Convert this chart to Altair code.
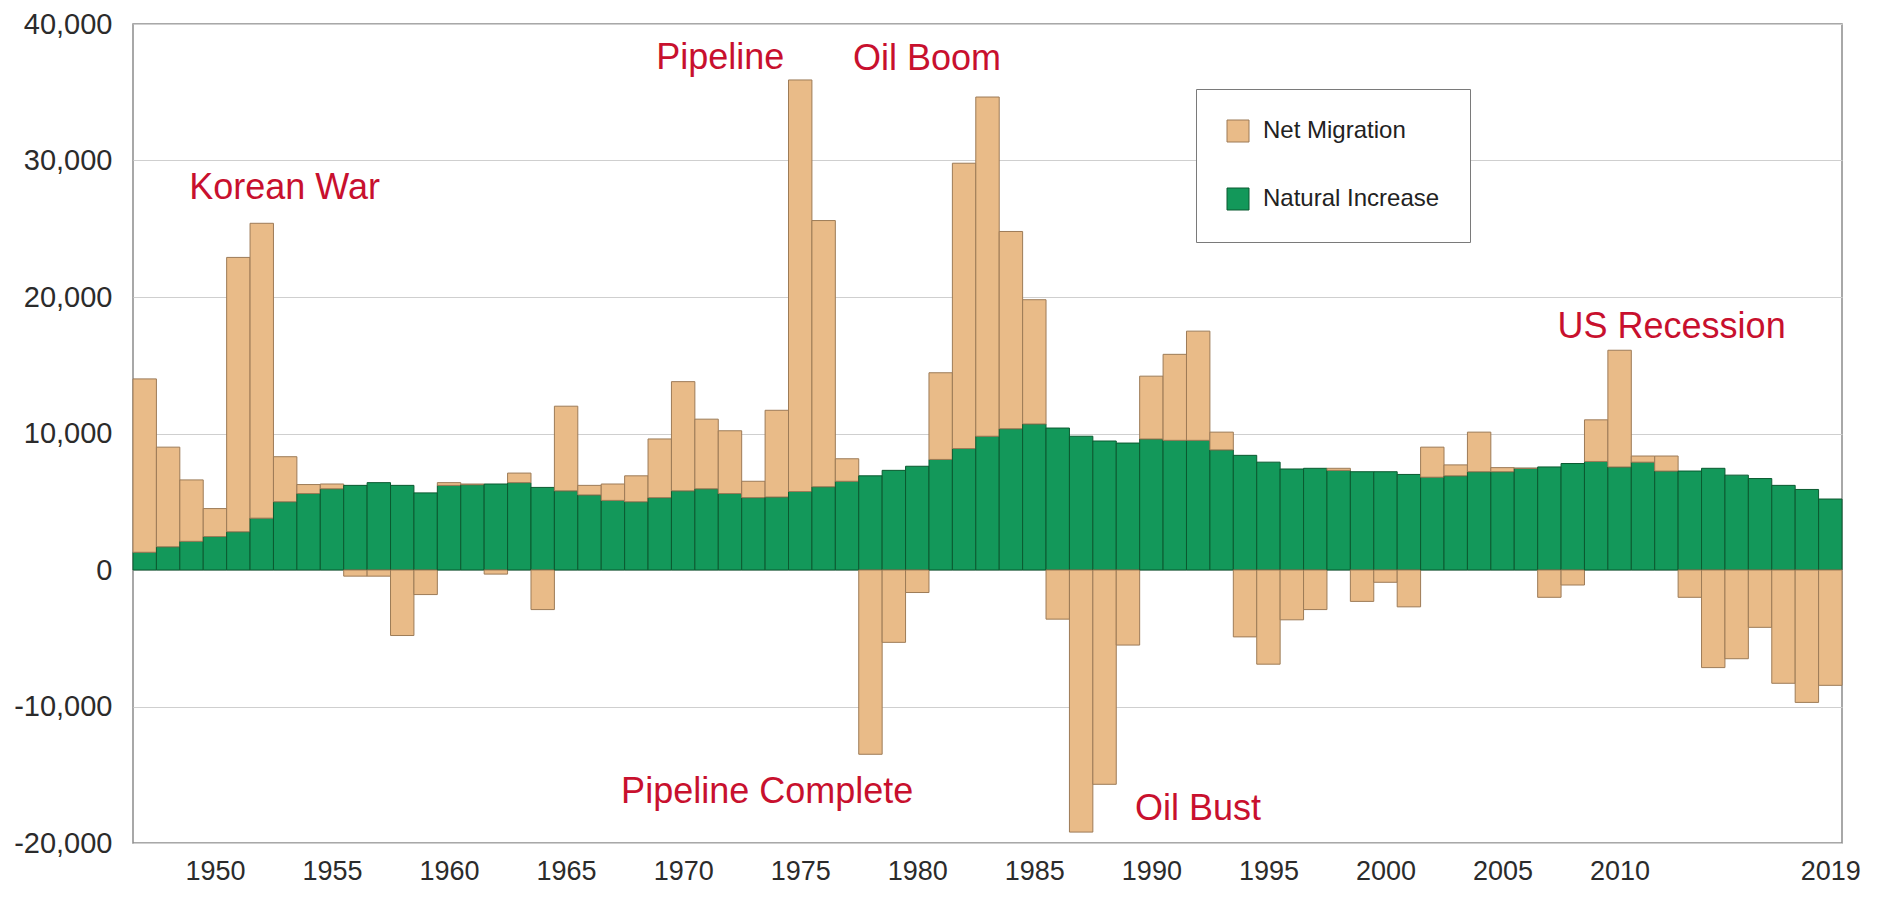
import altair as alt
import pandas as pd

# ---- data ----
YEARS = list(range(1947, 2020))

NATURAL = [
    1300, 1700, 2100, 2450, 2800, 3800, 5000, 5600, 5950, 6200,
    6400, 6200, 5650, 6200, 6250, 6300, 6400, 6050, 5800, 5500,
    5100, 5000, 5300, 5800, 5950, 5600, 5300, 5350, 5750, 6100,
    6500, 6900, 7300, 7600, 8100, 8900, 9800, 10350, 10700, 10400,
    9800, 9450, 9300, 9600, 9500, 9500, 8800, 8400, 7900, 7400,
    7450, 7300, 7200, 7200, 7000, 6800, 6900, 7200, 7200, 7450,
    7550, 7800, 7950, 7550, 7900, 7250, 7250, 7450, 6950, 6700,
    6200, 5900, 5200,
]

MIGRATION = [
    12700, 7300, 4500, 2050, 20100, 21600, 3300, 660, 350, -450,
    -450, -4800, -1800, 200, 50, -300, 700, -2900, 6200, 700,
    1200, 1900, 4300, 8000, 5100, 4600, 1200, 6350, 30150, 19500,
    1650, -13500, -5300, -1650, 6350, 20900, 24850, 14450, 9100, -3600,
    -19200, -15700, -5500, 4600, 6300, 8000, 1300, -4900, -6900, -3650,
    -2900, 150, -2300, -900, -2700, 2200, 800, 2900, 300, 0,
    -2000, -1100, 3050, 8550, 450, 1100, -2000, -7150, -6500, -4200,
    -8300, -9700, -8450,
]

SERIES = ["Net Migration", "Natural Increase"]
TICK_YEARS = [1950, 1955, 1960, 1965, 1970, 1975, 1980, 1985, 1990,
              1995, 2000, 2005, 2010, 2019]
Y_TICKS = [-20000, -10000, 0, 10000, 20000, 30000, 40000]

ANNOT_TEXT = ["Korean War", "Pipeline", "Oil Boom",
              "Pipeline Complete", "Oil Bust", "US Recession"]
ANNOT_YEAR = [1948.9, 1968.85, 1977.25, 1967.35, 1989.3, 2007.35]
ANNOT_VALUE = [28000, 37500, 37400, -16250, -17500, 17800]

# ---- tables ----
rows = []
for yr, n, m in zip(YEARS, NATURAL, MIGRATION):
    rows.append({"year": yr, "series": "Natural Increase", "value": n, "ord": 0})
    rows.append({"year": yr, "series": "Net Migration", "value": m, "ord": 1})
df = pd.DataFrame(rows)

ann = pd.DataFrame({"text": ANNOT_TEXT, "year": ANNOT_YEAR, "value": ANNOT_VALUE})

TAN, GREEN = "#e9bb88", "#13985a"
TAN_EDGE, GREEN_EDGE = "#9d7b57", "#0b5a30"
RED = "#c8102e"
FONT = "Liberation Sans"

x_scale = alt.Scale(domain=[1946.5, 2019.5], nice=False, zero=False)
y_scale = alt.Scale(domain=[-20000, 40000], nice=False)

x_axis = alt.Axis(values=TICK_YEARS, format="d", title=None, grid=False,
                  ticks=False, domain=False, labelFontSize=27,
                  labelPadding=15, labelColor="#2b2b2b", labelFont=FONT,
                  labelFlush=False)
y_axis = alt.Axis(values=Y_TICKS, title=None, grid=True,
                  labelExpr="replace(format(datum.value, ',.0f'), '\u2212', '-')",
                  gridColor="#cfcfcf", gridWidth=1, ticks=False,
                  domain=False, labelFontSize=29, labelPadding=21,
                  labelColor="#2b2b2b", labelFont=FONT)

bars = alt.Chart(df).transform_stack(
    stack="value", as_=["v0", "v1"], groupby=["year"],
    sort=[alt.SortField("ord", order="ascending")], offset="zero",
).transform_calculate(
    x0="datum.year - 0.5", x1="datum.year + 0.5"
).mark_bar(strokeWidth=1).encode(
    x=alt.X("x0:Q", scale=x_scale, axis=x_axis),
    x2="x1:Q",
    y=alt.Y("v0:Q", scale=y_scale, axis=y_axis),
    y2="v1:Q",
    color=alt.Color("series:N", scale=alt.Scale(domain=SERIES, range=[TAN, GREEN]),
                    legend=alt.Legend(title=None, orient="none", legendX=1063,
                                      legendY=65, direction="vertical",
                                      symbolType="square", symbolSize=484,
                                      symbolStrokeColor="#6e6e6e",
                                      symbolStrokeWidth=1, labelFontSize=24,
                                      labelFont=FONT, labelColor="#222222",
                                      labelOffset=13, rowPadding=42, padding=30,
                                      labelLimit=400,
                                      strokeColor="#7a7a7a", fillColor="white")),
    stroke=alt.Stroke("series:N",
                      scale=alt.Scale(domain=SERIES, range=[TAN_EDGE, GREEN_EDGE]),
                      legend=None),
)

labels = alt.Chart(ann).mark_text(
    align="left", baseline="middle", fontSize=36, font=FONT, color=RED
).encode(
    x=alt.X("year:Q", scale=x_scale, axis=x_axis),
    y=alt.Y("value:Q", scale=y_scale, axis=y_axis),
    text="text:N",
)

chart = alt.layer(bars, labels).properties(
    width=1709, height=819,
    padding={"left": 5, "top": 2, "right": 5, "bottom": 5},
).configure_view(stroke="#8c8c8c", strokeWidth=1.5)

chart.save("out.html", embed_options={"renderer": "svg", "actions": False})
